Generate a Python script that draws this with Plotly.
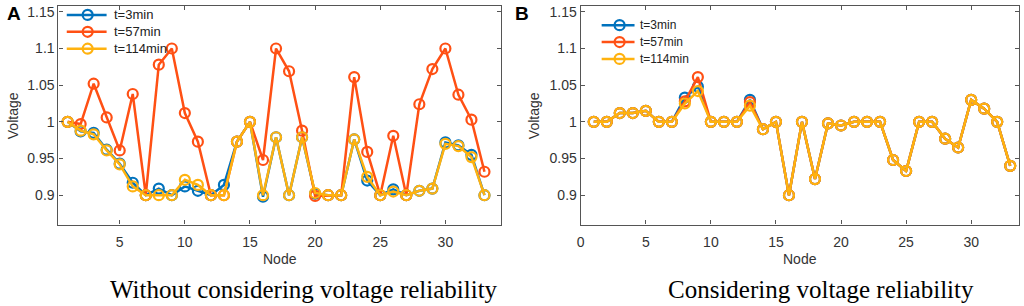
import plotly.graph_objects as go

nodes = list(range(1, 34))

a_t3 = [1.000, 0.987, 0.985, 0.962, 0.943, 0.917, 0.900, 0.909, 0.900, 0.912,
        0.906, 0.900, 0.914, 0.973, 1.000, 0.898, 0.979, 0.900, 0.979, 0.902,
        0.900, 0.900, 0.976, 0.920, 0.900, 0.908, 0.900, 0.906, 0.909, 0.972,
        0.968, 0.955, 0.900]
a_t57 = [1.000, 0.997, 1.052, 1.006, 0.961, 1.038, 0.900, 1.078, 1.100, 1.012,
         0.973, 0.900, 0.900, 0.973, 1.000, 0.948, 1.100, 1.069, 0.988, 0.899,
         0.900, 0.900, 1.061, 0.959, 0.900, 0.981, 0.900, 1.024, 1.072, 1.100,
         1.037, 1.003, 0.932]
a_t114 = [1.000, 0.988, 0.983, 0.961, 0.942, 0.912, 0.900, 0.900, 0.900, 0.921,
          0.914, 0.900, 0.900, 0.973, 1.000, 0.900, 0.979, 0.900, 0.979, 0.903,
          0.900, 0.900, 0.976, 0.925, 0.900, 0.905, 0.900, 0.906, 0.909, 0.970,
          0.967, 0.952, 0.900]

b_t3 = [1.000, 1.000, 1.012, 1.012, 1.015, 1.000, 1.000, 1.033, 1.048, 1.000,
        1.000, 1.000, 1.030, 0.990, 1.000, 0.900, 1.000, 0.922, 0.998, 0.995,
        1.000, 1.000, 1.000, 0.948, 0.933, 1.000, 1.000, 0.977, 0.965, 1.030,
        1.018, 1.000, 0.940]
b_t57 = [1.000, 1.000, 1.012, 1.012, 1.015, 1.000, 1.000, 1.028, 1.061, 1.000,
         1.000, 1.000, 1.027, 0.990, 1.000, 0.900, 1.000, 0.922, 0.998, 0.995,
         1.000, 1.000, 1.000, 0.948, 0.933, 1.000, 1.000, 0.977, 0.965, 1.030,
         1.018, 1.000, 0.940]
b_t114 = [1.000, 1.000, 1.012, 1.012, 1.015, 1.000, 1.000, 1.025, 1.042, 1.000,
          1.000, 1.000, 1.022, 0.990, 1.000, 0.900, 1.000, 0.922, 0.998, 0.995,
          1.000, 1.000, 1.000, 0.948, 0.933, 1.000, 1.000, 0.977, 0.965, 1.030,
          1.018, 1.000, 0.940]

series_names = ["t=3min", "t=57min", "t=114min"]
colors = ["#0072BD", "#FF5014", "#FFB20F"]

y_tickvals = [0.9, 0.95, 1.0, 1.05, 1.1, 1.15]
y_ticktext = ["0.9", "0.95", "1", "1.05", "1.1", "1.15"]
x_tickvals = [0, 5, 10, 15, 20, 25, 30]
x_ticktext = ["0", "5", "10", "15", "20", "25", "30"]

captions = ["Without considering voltage reliability", "Considering voltage reliability"]
panel_letters = ["A", "B"]

W, H = 1024, 306
def px(x):
    return x / W
def py(y):
    return 1 - y / H

fig = go.Figure()

panels = [
    dict(series=[a_t3, a_t57, a_t114], xaxis="x", yaxis="y"),
    dict(series=[b_t3, b_t57, b_t114], xaxis="x2", yaxis="y2"),
]
for p in panels:
    for name, vals, col in zip(series_names, p["series"], colors):
        fig.add_trace(go.Scatter(
            x=nodes, y=vals, name=name, mode="lines+markers",
            xaxis=p["xaxis"], yaxis=p["yaxis"], showlegend=False,
            line=dict(color=col, width=2.5),
            marker=dict(symbol="circle-open", size=10, color=col,
                        line=dict(width=2.2, color=col)),
        ))

axis_common = dict(
    showline=True, linecolor="#555555", linewidth=1.2, mirror="ticks",
    ticks="inside", ticklen=4, tickcolor="#555555", tickwidth=1,
    showgrid=False, zeroline=False,
    tickfont=dict(family="Liberation Sans, Arial", size=14, color="#333333"),
)
xaxis_extra = dict(ticklabelstandoff=5)

a_dom = [px(54.7), px(498.7)]
b_dom = [px(579), px(1019.3)]
y_dom = [py(224), py(4)]

fig.update_layout(
    width=W, height=H,
    margin=dict(l=0, r=0, t=0, b=0),
    paper_bgcolor="white", plot_bgcolor="white",
    xaxis=dict(domain=a_dom, range=[0.3, 34.25], anchor="y",
               tickvals=x_tickvals, ticktext=x_ticktext, **axis_common, **xaxis_extra),
    yaxis=dict(domain=y_dom, range=[0.86, 1.158], anchor="x",
               tickvals=y_tickvals, ticktext=y_ticktext, **axis_common),
    xaxis2=dict(domain=b_dom, range=[0, 33.7], anchor="y2",
                tickvals=x_tickvals, ticktext=x_ticktext, **axis_common, **xaxis_extra),
    yaxis2=dict(domain=y_dom, range=[0.86, 1.158], anchor="x2",
                tickvals=y_tickvals, ticktext=y_ticktext, **axis_common),
    showlegend=False,
)

# Hand-drawn legends (MATLAB-style, no box)
shapes = []
ann = []
legend_specs = [
    dict(x0=63, x1=103, mx=84, tx=108, y0=13, dy=17, fs=13),
    dict(x0=600, x1=633, mx=618, tx=636, y0=23.3, dy=17, fs=12),
]
for spec in legend_specs:
    for i, (name, col) in enumerate(zip(series_names, colors)):
        yy = spec["y0"] + i * spec["dy"]
        shapes.append(dict(type="line", xref="paper", yref="paper",
                           x0=px(spec["x0"]), x1=px(spec["x1"]), y0=py(yy), y1=py(yy),
                           line=dict(color=col, width=2.5)))
        shapes.append(dict(type="circle", xref="paper", yref="paper",
                           xsizemode="pixel", ysizemode="pixel",
                           xanchor=px(spec["mx"]), yanchor=py(yy),
                           x0=-5, x1=5, y0=-5, y1=5,
                           line=dict(color=col, width=2.2)))
        ann.append(dict(x=px(spec["tx"]), y=py(yy), xref="paper", yref="paper", text=name,
                        showarrow=False, xanchor="left", yanchor="middle",
                        font=dict(family="Liberation Sans, Arial", size=spec["fs"], color="#222222")))

for cx, ylab_x, letter_x, cap_x, letter, cap in [
    (276.7, 9, 10, 301, panel_letters[0], captions[0]),
    (799, 532, 520, 820, panel_letters[1], captions[1]),
]:
    ann.append(dict(x=px(cx), y=py(259), xref="paper", yref="paper", text="Node",
                    showarrow=False, xanchor="center", yanchor="middle",
                    font=dict(family="Liberation Sans, Arial", size=14, color="#333333")))
    ann.append(dict(x=px(ylab_x), y=py(114), xref="paper", yref="paper", text="Voltage",
                    showarrow=False, xanchor="center", yanchor="middle", textangle=-90,
                    font=dict(family="Liberation Sans, Arial", size=14, color="#333333")))
    ann.append(dict(x=px(letter_x), y=py(12), xref="paper", yref="paper",
                    text="<b>" + letter + "</b>",
                    showarrow=False, xanchor="center", yanchor="middle",
                    font=dict(family="Liberation Sans, Arial", size=19, color="#000000")))
    ann.append(dict(x=px(cap_x), y=py(289), xref="paper", yref="paper", text=cap,
                    showarrow=False, xanchor="center", yanchor="middle",
                    font=dict(family="Liberation Serif, Times New Roman", size=25, color="#000000")))
fig.update_layout(annotations=ann, shapes=shapes)

fig.write_html("out.html", config={"displayModeBar": False},
               post_script="document.body.style.margin='0';document.body.style.overflow='hidden';")
